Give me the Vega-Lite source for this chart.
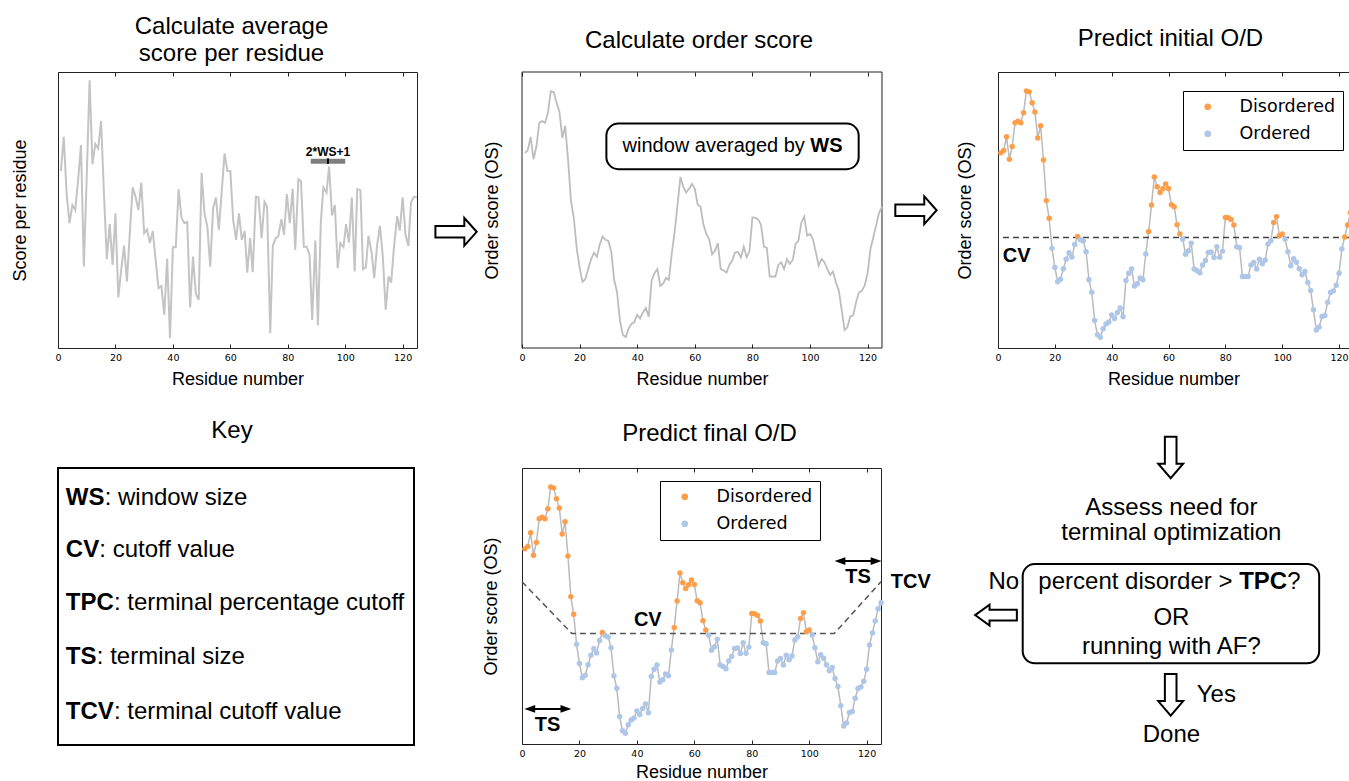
{
"$schema":"https://vega.github.io/schema/vega-lite/v6.json",
"padding":{"left":10,"top":14,"right":0,"bottom":0},
"config":{
 "font":"Liberation Sans",
 "view":{"stroke":"#222","strokeWidth":1},
 "axis":{"domain":false,"grid":false,"labelFont":"DejaVu Sans","labelFontSize":9.5,"labelColor":"#000","labelFlush":false,"labelOverlap":false,"labelPadding":8,"titleFont":"Liberation Sans","titleFontSize":18,"titleFontWeight":"normal","titleColor":"#000","tickColor":"#222","tickSize":-4,"tickWidth":1},
 "axisY":{"ticks":false,"labels":false},
 "title":{"font":"Liberation Sans","fontSize":24,"fontWeight":"normal","color":"#000","lineHeight":27,"anchor":"middle","frame":"group"},
 "text":{"font":"Liberation Sans","color":"#000"},
 "legend":{"labelFont":"DejaVu Sans","labelFontSize":17.5,"labelColor":"#000","symbolType":"circle","symbolSize":45,"strokeColor":"#000","fillColor":"#fff","padding":7,"rowPadding":8,"symbolOffset":9,"labelOffset":23}
},
"datasets":{
 "raw":[{"r":1,"s":0.642},{"r":2,"s":0.765},{"r":3,"s":0.56},{"r":4,"s":0.452},{"r":5,"s":0.518},{"r":6,"s":0.5},{"r":7,"s":0.608},{"r":8,"s":0.735},{"r":9,"s":0.295},{"r":10,"s":0.62},{"r":11,"s":0.97},{"r":12,"s":0.666},{"r":13,"s":0.739},{"r":14,"s":0.723},{"r":15,"s":0.823},{"r":16,"s":0.56},{"r":17,"s":0.322},{"r":18,"s":0.449},{"r":19,"s":0.301},{"r":20,"s":0.488},{"r":21,"s":0.183},{"r":22,"s":0.283},{"r":23,"s":0.371},{"r":24,"s":0.241},{"r":25,"s":0.416},{"r":26,"s":0.582},{"r":27,"s":0.548},{"r":28,"s":0.5},{"r":29,"s":0.599},{"r":30,"s":0.416},{"r":31,"s":0.43},{"r":32,"s":0.38},{"r":33,"s":0.424},{"r":34,"s":0.319},{"r":35,"s":0.217},{"r":36,"s":0.225},{"r":37,"s":0.12},{"r":38,"s":0.323},{"r":39,"s":0.036},{"r":40,"s":0.365},{"r":41,"s":0.365},{"r":42,"s":0.575},{"r":43,"s":0.472},{"r":44,"s":0.452},{"r":45,"s":0.457},{"r":46,"s":0.147},{"r":47,"s":0.331},{"r":48,"s":0.196},{"r":49,"s":0.175},{"r":50,"s":0.635},{"r":51,"s":0.488},{"r":52,"s":0.44},{"r":53,"s":0.295},{"r":54,"s":0.506},{"r":55,"s":0.545},{"r":56,"s":0.428},{"r":57,"s":0.566},{"r":58,"s":0.705},{"r":59,"s":0.641},{"r":60,"s":0.641},{"r":61,"s":0.464},{"r":62,"s":0.392},{"r":63,"s":0.488},{"r":64,"s":0.392},{"r":65,"s":0.424},{"r":65.9,"s":0.273},{"r":66.9,"s":0.398},{"r":67.8,"s":0.275},{"r":68.9,"s":0.548},{"r":69.8,"s":0.546},{"r":70.9,"s":0.398},{"r":71.9,"s":0.53},{"r":72.8,"s":0.512},{"r":73.9,"s":0.054},{"r":74.8,"s":0.371},{"r":75.8,"s":0.398},{"r":76.7,"s":0.404},{"r":77.8,"s":0.467},{"r":78.7,"s":0.41},{"r":79.7,"s":0.558},{"r":80.7,"s":0.452},{"r":81.7,"s":0.578},{"r":82.6,"s":0.355},{"r":83.7,"s":0.612},{"r":84.6,"s":0.605},{"r":85.6,"s":0.367},{"r":86.6,"s":0.367},{"r":87.6,"s":0.337},{"r":88.5,"s":0.102},{"r":89.6,"s":0.389},{"r":90.5,"s":0.082},{"r":91.5,"s":0.452},{"r":92.4,"s":0.582},{"r":93.5,"s":0.563},{"r":94.4,"s":0.657},{"r":95.4,"s":0.48},{"r":96.4,"s":0.518},{"r":97.4,"s":0.289},{"r":98.3,"s":0.38},{"r":99.4,"s":0.365},{"r":100.3,"s":0.449},{"r":101.3,"s":0.382},{"r":102.3,"s":0.545},{"r":103.3,"s":0.277},{"r":104.2,"s":0.576},{"r":105.3,"s":0.572},{"r":106.2,"s":0.286},{"r":107.2,"s":0.292},{"r":108.1,"s":0.406},{"r":109.2,"s":0.346},{"r":110.1,"s":0.253},{"r":111.1,"s":0.371},{"r":112.1,"s":0.443},{"r":113.1,"s":0.331},{"r":114.1,"s":0.139},{"r":115.1,"s":0.259},{"r":116,"s":0.237},{"r":117,"s":0.367},{"r":118.1,"s":0.478},{"r":119,"s":0.425},{"r":120,"s":0.546},{"r":121,"s":0.41},{"r":122,"s":0.37},{"r":122.9,"s":0.527},{"r":123.9,"s":0.548},{"r":125,"s":0.546}],
 "os":[{"r":1,"os":0.707,"c":"Disordered","f":"Disordered"},{"r":2,"os":0.716,"c":"Disordered","f":"Disordered"},{"r":3,"os":0.765,"c":"Disordered","f":"Disordered"},{"r":4,"os":0.684,"c":"Disordered","f":"Disordered"},{"r":5,"os":0.73,"c":"Disordered","f":"Disordered"},{"r":6,"os":0.816,"c":"Disordered","f":"Disordered"},{"r":7,"os":0.822,"c":"Disordered","f":"Disordered"},{"r":8,"os":0.816,"c":"Disordered","f":"Disordered"},{"r":9,"os":0.852,"c":"Disordered","f":"Disordered"},{"r":10,"os":0.931,"c":"Disordered","f":"Disordered"},{"r":11,"os":0.928,"c":"Disordered","f":"Disordered"},{"r":12,"os":0.889,"c":"Disordered","f":"Disordered"},{"r":13,"os":0.855,"c":"Disordered","f":"Disordered"},{"r":14,"os":0.761,"c":"Disordered","f":"Disordered"},{"r":15,"os":0.805,"c":"Disordered","f":"Disordered"},{"r":16,"os":0.681,"c":"Disordered","f":"Disordered"},{"r":17,"os":0.534,"c":"Disordered","f":"Disordered"},{"r":18,"os":0.47,"c":"Disordered","f":"Disordered"},{"r":19,"os":0.361,"c":"Ordered","f":"Ordered"},{"r":20,"os":0.292,"c":"Ordered","f":"Ordered"},{"r":21,"os":0.24,"c":"Ordered","f":"Ordered"},{"r":22,"os":0.249,"c":"Ordered","f":"Ordered"},{"r":23,"os":0.287,"c":"Ordered","f":"Ordered"},{"r":24,"os":0.322,"c":"Ordered","f":"Ordered"},{"r":25,"os":0.345,"c":"Ordered","f":"Ordered"},{"r":26,"os":0.33,"c":"Ordered","f":"Ordered"},{"r":27,"os":0.375,"c":"Ordered","f":"Ordered"},{"r":28,"os":0.404,"c":"Disordered","f":"Disordered"},{"r":29,"os":0.392,"c":"Ordered","f":"Ordered"},{"r":30,"os":0.388,"c":"Ordered","f":"Ordered"},{"r":31,"os":0.349,"c":"Ordered","f":"Ordered"},{"r":32,"os":0.247,"c":"Ordered","f":"Ordered"},{"r":33,"os":0.202,"c":"Ordered","f":"Ordered"},{"r":34,"os":0.1,"c":"Ordered","f":"Ordered"},{"r":35,"os":0.048,"c":"Ordered","f":"Ordered"},{"r":36,"os":0.039,"c":"Ordered","f":"Ordered"},{"r":37,"os":0.07,"c":"Ordered","f":"Ordered"},{"r":38,"os":0.087,"c":"Ordered","f":"Ordered"},{"r":39,"os":0.094,"c":"Ordered","f":"Ordered"},{"r":40,"os":0.12,"c":"Ordered","f":"Ordered"},{"r":41,"os":0.107,"c":"Ordered","f":"Ordered"},{"r":42,"os":0.129,"c":"Ordered","f":"Ordered"},{"r":43,"os":0.145,"c":"Ordered","f":"Ordered"},{"r":44,"os":0.113,"c":"Ordered","f":"Ordered"},{"r":45,"os":0.245,"c":"Ordered","f":"Ordered"},{"r":46,"os":0.271,"c":"Ordered","f":"Ordered"},{"r":47,"os":0.286,"c":"Ordered","f":"Ordered"},{"r":48,"os":0.225,"c":"Ordered","f":"Ordered"},{"r":49,"os":0.233,"c":"Ordered","f":"Ordered"},{"r":50,"os":0.254,"c":"Ordered","f":"Ordered"},{"r":51,"os":0.247,"c":"Ordered","f":"Ordered"},{"r":52,"os":0.341,"c":"Ordered","f":"Ordered"},{"r":53,"os":0.422,"c":"Disordered","f":"Disordered"},{"r":54,"os":0.518,"c":"Disordered","f":"Disordered"},{"r":55,"os":0.62,"c":"Disordered","f":"Disordered"},{"r":56,"os":0.584,"c":"Disordered","f":"Disordered"},{"r":57,"os":0.563,"c":"Disordered","f":"Disordered"},{"r":58,"os":0.577,"c":"Disordered","f":"Disordered"},{"r":59,"os":0.594,"c":"Disordered","f":"Disordered"},{"r":60,"os":0.578,"c":"Disordered","f":"Disordered"},{"r":61,"os":0.519,"c":"Disordered","f":"Disordered"},{"r":62,"os":0.512,"c":"Disordered","f":"Disordered"},{"r":63,"os":0.447,"c":"Disordered","f":"Disordered"},{"r":64,"os":0.413,"c":"Disordered","f":"Disordered"},{"r":65,"os":0.394,"c":"Ordered","f":"Ordered"},{"r":66,"os":0.34,"c":"Ordered","f":"Ordered"},{"r":67,"os":0.352,"c":"Ordered","f":"Ordered"},{"r":68,"os":0.38,"c":"Ordered","f":"Ordered"},{"r":69,"os":0.286,"c":"Ordered","f":"Ordered"},{"r":70,"os":0.281,"c":"Ordered","f":"Ordered"},{"r":71,"os":0.273,"c":"Ordered","f":"Ordered"},{"r":72,"os":0.301,"c":"Ordered","f":"Ordered"},{"r":73,"os":0.317,"c":"Ordered","f":"Ordered"},{"r":74,"os":0.346,"c":"Ordered","f":"Ordered"},{"r":75,"os":0.348,"c":"Ordered","f":"Ordered"},{"r":76,"os":0.328,"c":"Ordered","f":"Ordered"},{"r":77,"os":0.367,"c":"Ordered","f":"Ordered"},{"r":78,"os":0.329,"c":"Ordered","f":"Ordered"},{"r":79,"os":0.351,"c":"Ordered","f":"Ordered"},{"r":80,"os":0.473,"c":"Disordered","f":"Disordered"},{"r":81,"os":0.472,"c":"Disordered","f":"Disordered"},{"r":82,"os":0.466,"c":"Disordered","f":"Disordered"},{"r":83,"os":0.446,"c":"Disordered","f":"Disordered"},{"r":84,"os":0.367,"c":"Ordered","f":"Ordered"},{"r":85,"os":0.363,"c":"Ordered","f":"Ordered"},{"r":86,"os":0.259,"c":"Ordered","f":"Ordered"},{"r":87,"os":0.259,"c":"Ordered","f":"Ordered"},{"r":88,"os":0.259,"c":"Ordered","f":"Ordered"},{"r":89,"os":0.301,"c":"Ordered","f":"Ordered"},{"r":90,"os":0.31,"c":"Ordered","f":"Ordered"},{"r":91,"os":0.286,"c":"Ordered","f":"Ordered"},{"r":92,"os":0.322,"c":"Ordered","f":"Ordered"},{"r":93,"os":0.305,"c":"Ordered","f":"Ordered"},{"r":94,"os":0.319,"c":"Ordered","f":"Ordered"},{"r":95,"os":0.377,"c":"Ordered","f":"Ordered"},{"r":96,"os":0.389,"c":"Ordered","f":"Ordered"},{"r":97,"os":0.455,"c":"Disordered","f":"Disordered"},{"r":98,"os":0.476,"c":"Disordered","f":"Disordered"},{"r":99,"os":0.407,"c":"Disordered","f":"Disordered"},{"r":100,"os":0.413,"c":"Disordered","f":"Disordered"},{"r":101,"os":0.395,"c":"Ordered","f":"Ordered"},{"r":102,"os":0.349,"c":"Ordered","f":"Ordered"},{"r":103,"os":0.298,"c":"Ordered","f":"Ordered"},{"r":104,"os":0.323,"c":"Ordered","f":"Ordered"},{"r":105,"os":0.311,"c":"Ordered","f":"Ordered"},{"r":106,"os":0.287,"c":"Ordered","f":"Ordered"},{"r":107,"os":0.265,"c":"Ordered","f":"Ordered"},{"r":108,"os":0.277,"c":"Ordered","f":"Ordered"},{"r":109,"os":0.237,"c":"Ordered","f":"Ordered"},{"r":110,"os":0.208,"c":"Ordered","f":"Ordered"},{"r":111,"os":0.139,"c":"Ordered","f":"Ordered"},{"r":112,"os":0.065,"c":"Ordered","f":"Ordered"},{"r":113,"os":0.076,"c":"Ordered","f":"Ordered"},{"r":114,"os":0.114,"c":"Ordered","f":"Ordered"},{"r":115,"os":0.118,"c":"Ordered","f":"Ordered"},{"r":116,"os":0.166,"c":"Ordered","f":"Ordered"},{"r":117,"os":0.201,"c":"Ordered","f":"Ordered"},{"r":118,"os":0.207,"c":"Ordered","f":"Ordered"},{"r":119,"os":0.227,"c":"Ordered","f":"Ordered"},{"r":120,"os":0.271,"c":"Ordered","f":"Ordered"},{"r":121,"os":0.359,"c":"Ordered","f":"Ordered"},{"r":122,"os":0.402,"c":"Disordered","f":"Ordered"},{"r":123,"os":0.446,"c":"Disordered","f":"Ordered"},{"r":124,"os":0.49,"c":"Disordered","f":"Ordered"},{"r":125,"os":0.512,"c":"Disordered","f":"Ordered"}],
 "key":[{"term":"WS","desc":": window size","x":2.2,"dx":13.1,"y":89.1},{"term":"CV","desc":": cutoff value","x":2.2,"dx":11.6,"y":70.4},{"term":"TPC","desc":": terminal percentage cutoff","x":2.2,"dx":15.7,"y":51.2},{"term":"TS","desc":": terminal size","x":2.2,"dx":10.9,"y":31.9},{"term":"TCV","desc":": terminal cutoff value","x":2.2,"dx":15.7,"y":12.0}]
},
"columns":3,
"bounds":"flush",
"align":"each",
"spacing":{"row":120,"column":105},
"resolve":{"scale":{"color":"independent"},"legend":{"color":"independent"}},
"concat":[
 {"width":359,"height":276,
  "title":{"text":["Calculate average","score per residue"],"offset":6,"dx":-6},
  "resolve":{"axis":{"x":"independent"}},
  "layer":[
   {"data":{"name":"raw"},"mark":{"type":"line","color":"#C4C4C4","strokeWidth":2},
    "encoding":{"x":{"field":"r","type":"quantitative","scale":{"domain":[0,125],"nice":false,"zero":false},"axis":{"title":"Residue number","values":[0,20,40,60,80,100,120],"titlePadding":9}},
     "y":{"field":"s","type":"quantitative","scale":{"domain":[0,1],"nice":false,"zero":false},"axis":{"title":"Score per residue","titlePadding":29}}}},
   {"data":{"values":[{"x":88,"x2":100,"y":0.677}]},"mark":{"type":"rule","color":"#7F7F7F","strokeWidth":5},
    "encoding":{"x":{"field":"x","type":"quantitative","axis":{"orient":"top","labels":false,"title":null,"values":[0,20,40,60,80,100,120]}},"x2":{"field":"x2"},"y":{"field":"y","type":"quantitative"}}},
   {"data":{"values":[{"x":94,"y":0.667,"y2":0.687}]},"mark":{"type":"rule","color":"#000","strokeWidth":2},
    "encoding":{"x":{"field":"x","type":"quantitative","axis":null},"y":{"field":"y","type":"quantitative"},"y2":{"field":"y2"}}},
   {"data":{"values":[{"x":94,"y":0.711,"t":"2*WS+1"}]},"mark":{"type":"text","fontSize":12,"fontWeight":"bold","baseline":"middle"},
    "encoding":{"x":{"field":"x","type":"quantitative","axis":null},"y":{"field":"y","type":"quantitative"},"text":{"field":"t"}}},
   {"data":{"values":[{"x":138.6,"y":0.421}]},"mark":{"type":"point","shape":"M-1,-0.28L0.4,-0.28L0.4,-0.67L1,0L0.4,0.67L0.4,0.28L-1,0.28Z","size":1706,"filled":false,"color":"#000","strokeWidth":2,"opacity":1},
    "encoding":{"x":{"field":"x","type":"quantitative","axis":null},"y":{"field":"y","type":"quantitative"}}}
  ]},
 {"width":371,"height":276,
  "title":{"text":"Calculate order score","offset":19,"dx":-8.5},
  "view":{"stroke":null},
  "resolve":{"axis":{"x":"independent"}},
  "layer":[
   {"data":{"values":[{"x":0,"x2":125,"y":0,"y2":1}]},"mark":{"type":"rect","fill":null,"stroke":"#222","strokeWidth":1},
    "encoding":{"x":{"field":"x","type":"quantitative","scale":{"domain":[0,128.82],"nice":false,"zero":false},"axis":{"title":"Residue number","values":[0,20,40,60,80,100,120],"titlePadding":9,"titleX":180}},"x2":{"field":"x2"},
     "y":{"field":"y","type":"quantitative","scale":{"domain":[0,1],"nice":false,"zero":false},"axis":{"title":"Order score (OS)","titlePadding":21}},"y2":{"field":"y2"}}},
   {"data":{"name":"os"},"mark":{"type":"line","color":"#BDBDBD","strokeWidth":1.8},
    "encoding":{"x":{"field":"r","type":"quantitative","axis":null},"y":{"field":"os","type":"quantitative"}}},
   {"data":{"values":[{"x":29.3,"x2":116.9,"y":0.648,"y2":0.813}]},"mark":{"type":"rect","cornerRadius":12,"fill":"#fff","stroke":"#000","strokeWidth":2},
    "encoding":{"x":{"field":"x","type":"quantitative","axis":{"orient":"top","labels":false,"title":null,"values":[0,20,40,60,80,100,120]}},"x2":{"field":"x2"},"y":{"field":"y","type":"quantitative"},"y2":{"field":"y2"}}},
   {"data":{"values":[{"x":34.9,"y":0.731,"t":"window averaged by"}]},"mark":{"type":"text","fontSize":20,"align":"left","baseline":"middle"},
    "encoding":{"x":{"field":"x","type":"quantitative","axis":null},"y":{"field":"y","type":"quantitative"},"text":{"field":"t"}}},
   {"data":{"values":[{"x":100.1,"y":0.731,"t":"WS"}]},"mark":{"type":"text","fontSize":20,"fontWeight":"bold","align":"left","baseline":"middle"},
    "encoding":{"x":{"field":"x","type":"quantitative","axis":null},"y":{"field":"y","type":"quantitative"},"text":{"field":"t"}}},
   {"data":{"values":[{"x":136.8,"y":0.499}]},"mark":{"type":"point","shape":"M-1,-0.28L0.4,-0.28L0.4,-0.67L1,0L0.4,0.67L0.4,0.28L-1,0.28Z","size":1706,"filled":false,"color":"#000","strokeWidth":2,"opacity":1},
    "encoding":{"x":{"field":"x","type":"quantitative","axis":null},"y":{"field":"y","type":"quantitative"}}}
  ]},
 {"width":351,"height":276,
  "title":{"text":"Predict initial O/D","offset":21,"dx":-3},
  "resolve":{"axis":{"x":"independent"}},
  "layer":[
   {"data":{"name":"os"},"mark":{"type":"line","color":"#BBBBBB","strokeWidth":1.5,"clip":true},
    "encoding":{"x":{"field":"r","type":"quantitative","scale":{"domain":[0,123.5],"nice":false,"zero":false},"axis":{"title":"Residue number","values":[0,20,40,60,80,100,120],"titlePadding":9}},
     "y":{"field":"os","type":"quantitative","scale":{"domain":[0,1],"nice":false,"zero":false},"axis":{"title":"Order score (OS)","titlePadding":24}}}},
   {"data":{"values":[{"y":0.4}]},"mark":{"type":"rule","color":"#444","strokeWidth":1.5,"strokeDash":[6,4]},
    "encoding":{"y":{"field":"y","type":"quantitative"}}},
   {"data":{"name":"os"},"mark":{"type":"point","filled":true,"size":30,"opacity":1,"clip":true},
    "encoding":{"x":{"field":"r","type":"quantitative","axis":null},"y":{"field":"os","type":"quantitative"},
     "color":{"field":"c","type":"nominal","scale":{"domain":["Disordered","Ordered"],"range":["#FF9E4A","#AEC7E8"]},"legend":{"title":null,"orient":"none","legendX":185,"legendY":19}}}},
   {"data":{"values":[{"x":6.6,"y":0.335,"t":"CV"}]},"mark":{"type":"text","fontSize":20,"fontWeight":"bold","baseline":"middle"},
    "encoding":{"x":{"field":"x","type":"quantitative","axis":{"orient":"top","labels":false,"title":null,"values":[0,20,40,60,80,100,120]}},"y":{"field":"y","type":"quantitative"},"text":{"field":"t"}}}
  ]},
 {"width":356,"height":277,
  "title":{"text":"Key","offset":25,"dx":-4},
  "view":{"stroke":"#000","strokeWidth":2},
  "data":{"name":"key"},
  "layer":[
   {"mark":{"type":"text","fontSize":24,"fontWeight":"bold","align":"left","baseline":"middle"},
    "encoding":{"x":{"field":"x","type":"quantitative","scale":{"domain":[0,100],"nice":false},"axis":null},"y":{"field":"y","type":"quantitative","scale":{"domain":[0,100],"nice":false},"axis":null},"text":{"field":"term"}}},
   {"mark":{"type":"text","fontSize":24,"align":"left","baseline":"middle"},
    "encoding":{"x":{"field":"dx","type":"quantitative","axis":null},"y":{"field":"y","type":"quantitative","axis":null},"text":{"field":"desc"}}}
  ]},
 {"width":359,"height":276,
  "title":{"text":"Predict final O/D","offset":22,"dx":8},
  "resolve":{"axis":{"x":"independent"}},
  "layer":[
   {"data":{"name":"os"},"mark":{"type":"line","color":"#BBBBBB","strokeWidth":1.5},
    "encoding":{"x":{"field":"r","type":"quantitative","scale":{"domain":[0,125],"nice":false,"zero":false},"axis":{"title":"Residue number","values":[0,20,40,60,80,100,120],"titlePadding":6}},
     "y":{"field":"os","type":"quantitative","scale":{"domain":[0,1],"nice":false,"zero":false},"axis":{"title":"Order score (OS)","titlePadding":22}}}},
   {"data":{"values":[{"x":0,"y":0.588},{"x":17.4,"y":0.4},{"x":108.7,"y":0.4},{"x":125,"y":0.588}]},"mark":{"type":"line","color":"#555","strokeWidth":1.5,"strokeDash":[6,4]},
    "encoding":{"x":{"field":"x","type":"quantitative","axis":null},"y":{"field":"y","type":"quantitative"}}},
   {"data":{"name":"os"},"mark":{"type":"point","filled":true,"size":30,"opacity":1},
    "encoding":{"x":{"field":"r","type":"quantitative","axis":null},"y":{"field":"os","type":"quantitative"},
     "color":{"field":"f","type":"nominal","scale":{"domain":["Disordered","Ordered"],"range":["#FF9E4A","#AEC7E8"]},"legend":{"title":null,"orient":"none","legendX":138,"legendY":13}}}},
   {"data":{"values":[{"x":43.8,"y":0.448,"t":"CV"},{"x":8.9,"y":0.068,"t":"TS"},{"x":117,"y":0.604,"t":"TS"},{"x":135.4,"y":0.586,"t":"TCV"}]},"mark":{"type":"text","fontSize":20,"fontWeight":"bold","baseline":"middle"},
    "encoding":{"x":{"field":"x","type":"quantitative","axis":{"orient":"top","labels":false,"title":null,"values":[0,20,40,60,80,100,120]}},"y":{"field":"y","type":"quantitative"},"text":{"field":"t"}}},
   {"data":{"values":[{"x":9,"y":0.127},{"x":117,"y":0.663}]},"mark":{"type":"point","shape":"M-1,0L-0.54,-0.165L-0.54,-0.043L0.54,-0.043L0.54,-0.165L1,0L0.54,0.165L0.54,0.043L-0.54,0.043L-0.54,0.165Z","size":2200,"filled":true,"color":"#000","opacity":1},
    "encoding":{"x":{"field":"x","type":"quantitative","axis":null},"y":{"field":"y","type":"quantitative"}}}
  ]},
 {"width":351,"height":277,
  "view":{"stroke":null},
  "layer":[
   {"data":{"values":[{"x":7.04,"x2":91.5,"y":29.5,"y2":65.3}]},"mark":{"type":"rect","cornerRadius":12,"fill":"#fff","stroke":"#000","strokeWidth":2},
    "encoding":{"x":{"field":"x","type":"quantitative","scale":{"domain":[0,100],"nice":false},"axis":null},"x2":{"field":"x2"},"y":{"field":"y","type":"quantitative","scale":{"domain":[0,100],"nice":false},"axis":null},"y2":{"field":"y2"}}},
   {"data":{"values":[{"x":49.4,"y":85.5,"t":"Assess need for"},{"x":49.4,"y":76.4,"t":"terminal optimization"},{"x":49.4,"y":45.7,"t":"OR"},{"x":49.4,"y":35.5,"t":"running with AF?"},{"x":49.4,"y":3.6,"t":"Done"},{"x":1.65,"y":59,"t":"No"},{"x":62.2,"y":18.1,"t":"Yes"}]},
    "mark":{"type":"text","fontSize":24,"baseline":"middle"},
    "encoding":{"x":{"field":"x","type":"quantitative","axis":null},"y":{"field":"y","type":"quantitative","axis":null},"text":{"field":"t"}}},
   {"data":{"values":[{"x":11.5,"y":59,"t":"percent disorder >"},{"x":82.4,"y":59,"t":"?"}]},
    "mark":{"type":"text","fontSize":24,"align":"left","baseline":"middle"},
    "encoding":{"x":{"field":"x","type":"quantitative","axis":null},"y":{"field":"y","type":"quantitative","axis":null},"text":{"field":"t"}}},
   {"data":{"values":[{"x":68.7,"y":59,"t":"TPC"}]},
    "mark":{"type":"text","fontSize":24,"fontWeight":"bold","align":"left","baseline":"middle"},
    "encoding":{"x":{"field":"x","type":"quantitative","axis":null},"y":{"field":"y","type":"quantitative","axis":null},"text":{"field":"t"}}},
   {"data":{"values":[{"x":49.2,"y":103.8},{"x":49.2,"y":18.1}]},
    "mark":{"type":"point","shape":"M-1,-0.28L0.3,-0.28L0.3,-0.6L1,0L0.3,0.6L0.3,0.28L-1,0.28Z","angle":90,"size":1730,"filled":false,"color":"#000","strokeWidth":2,"opacity":1},
    "encoding":{"x":{"field":"x","type":"quantitative","axis":null},"y":{"field":"y","type":"quantitative","axis":null}}},
   {"data":{"values":[{"x":-0.57,"y":46.9}]},
    "mark":{"type":"point","shape":"M-1,-0.26L0.31,-0.26L0.31,-0.5L1,0L0.31,0.5L0.31,0.26L-1,0.26Z","angle":180,"size":1740,"filled":false,"color":"#000","strokeWidth":2,"opacity":1},
    "encoding":{"x":{"field":"x","type":"quantitative","axis":null},"y":{"field":"y","type":"quantitative","axis":null}}}
  ]}
]
}
